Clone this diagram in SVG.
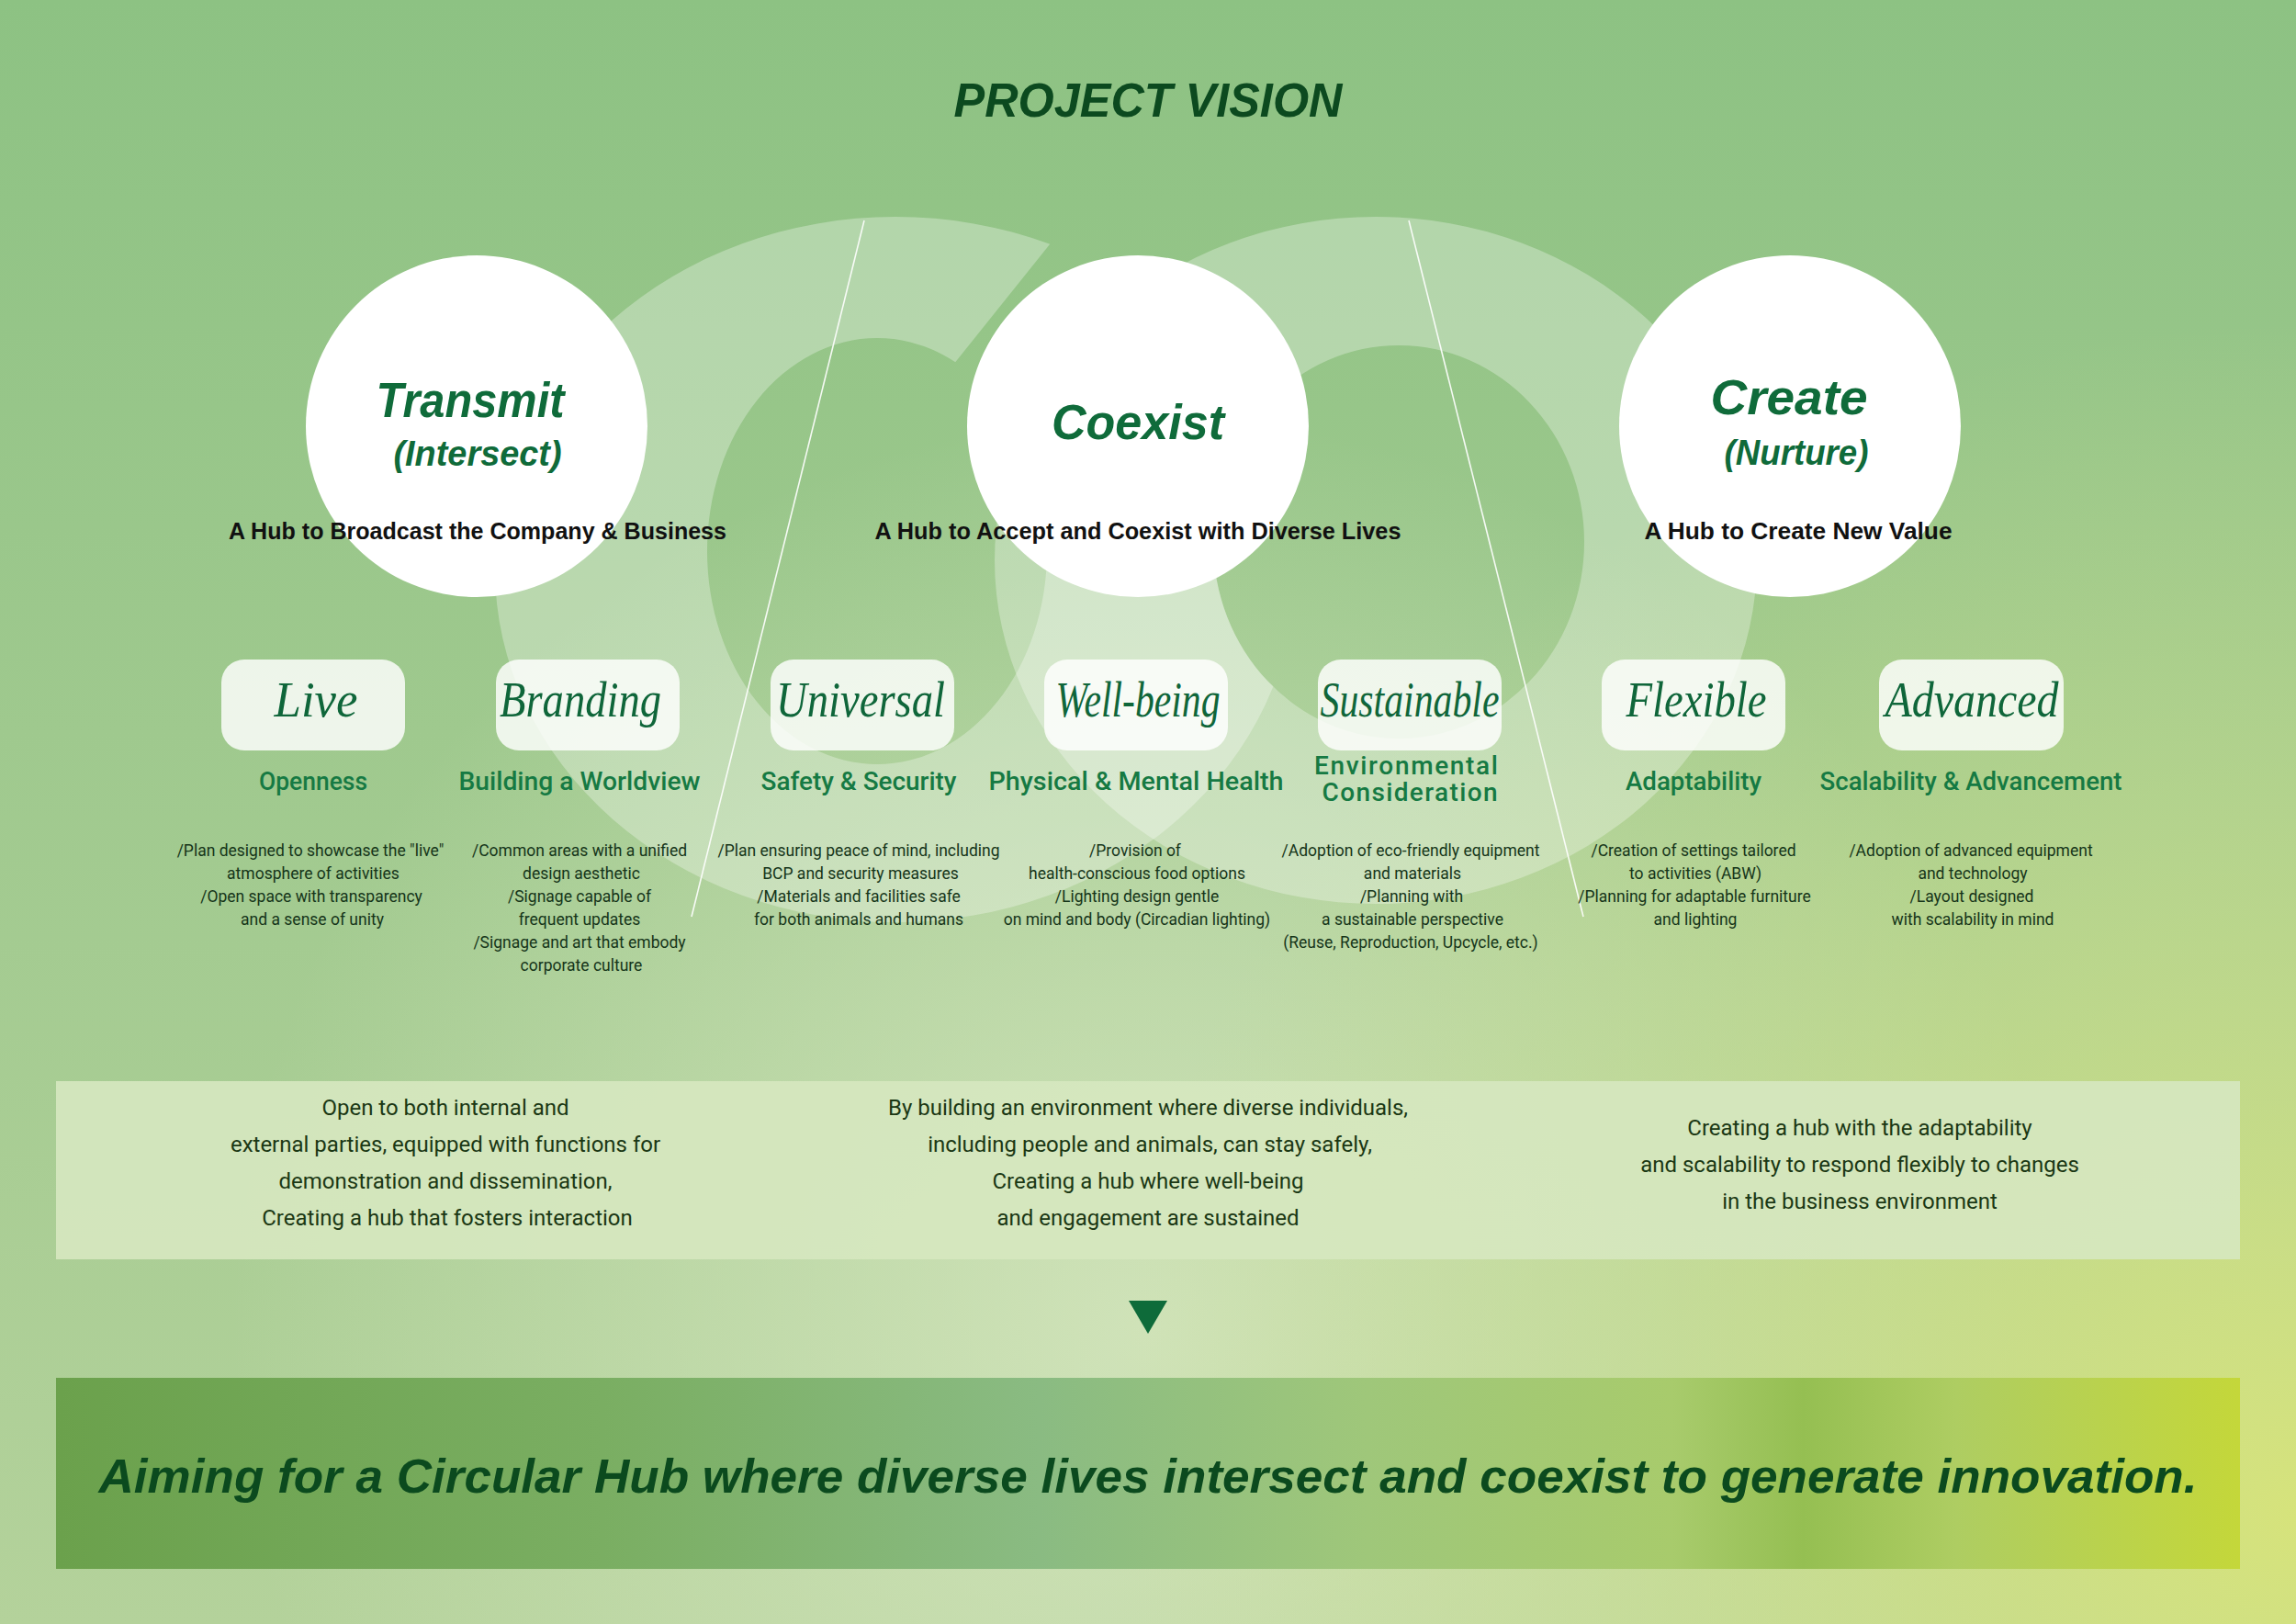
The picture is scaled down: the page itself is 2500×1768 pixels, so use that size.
<svg xmlns="http://www.w3.org/2000/svg" width="2500" height="1768" viewBox="0 0 2500 1768">
<defs>
<linearGradient id="bg" x1="0" y1="0" x2="0" y2="1">
<stop offset="0" stop-color="#8dc283"/>
<stop offset="0.45" stop-color="#9fc98e"/>
<stop offset="1" stop-color="#b4d29b"/>
</linearGradient>
<radialGradient id="glow" cx="1250" cy="1450" r="1000" gradientUnits="userSpaceOnUse">
<stop offset="0" stop-color="#dbe9c4" stop-opacity="0.75"/>
<stop offset="1" stop-color="#dbe9c4" stop-opacity="0"/>
</radialGradient>
<radialGradient id="yel" cx="2500" cy="1650" r="1300" gradientUnits="userSpaceOnUse">
<stop offset="0" stop-color="#d8e47a" stop-opacity="0.95"/>
<stop offset="0.6" stop-color="#cfe08a" stop-opacity="0.4"/>
<stop offset="1" stop-color="#cfe08a" stop-opacity="0"/>
</radialGradient>
<linearGradient id="banner" x1="0" y1="0" x2="1" y2="0">
<stop offset="0" stop-color="#6ba14c"/>
<stop offset="0.25" stop-color="#7aae62"/>
<stop offset="0.45" stop-color="#8abb82"/>
<stop offset="0.6" stop-color="#9fc77a"/>
<stop offset="0.74" stop-color="#a8cb6c"/>
<stop offset="0.8" stop-color="#95bf52"/>
<stop offset="0.87" stop-color="#aecd62"/>
<stop offset="1" stop-color="#c4d73a"/>
</linearGradient>
<mask id="cmask">
<rect width="2500" height="1768" fill="#fff"/>
<polygon points="1276,100 1010,432 965,600 1800,612 1800,100" fill="#000"/>
<ellipse cx="1523" cy="590" rx="202" ry="214" fill="#000"/>
</mask>
<style>
.ring{fill:#ffffff;fill-opacity:0.3;fill-rule:evenodd}
.hub{fill:#ffffff}
.ttl{font-family:"Liberation Sans",Arial,sans-serif;font-weight:bold;font-style:italic;fill:#0f6b3a;text-anchor:middle}
.sub{font-family:"Liberation Sans",Arial,sans-serif;font-weight:bold;font-size:25px;fill:#111111;text-anchor:middle}
.box{fill:#ffffff;fill-opacity:0.82}
.kw{font-family:"Liberation Serif","Times New Roman",serif;font-style:italic;font-size:54px;fill:#0f663a;text-anchor:middle}
.cat{font-family:Roboto,"Liberation Sans",sans-serif;font-weight:500;font-size:28px;fill:#167a43;text-anchor:middle}
.desc{font-family:Roboto,"Liberation Sans",sans-serif;font-size:17.5px;fill:#153519;text-anchor:middle}
.sum{font-family:Roboto,"Liberation Sans",sans-serif;font-size:24px;fill:#1b3814;text-anchor:middle}
.line{stroke:#ffffff;stroke-width:1.6;stroke-opacity:0.9;fill:none}
</style>
</defs>

<g id="background">
<rect width="2500" height="1768" fill="url(#bg)"/>
<rect width="2500" height="1768" fill="url(#glow)"/>
<rect width="2500" height="1768" fill="url(#yel)"/>
<path class="ring" mask="url(#cmask)" d="M539,620 a436,384 0 1,0 872,0 a436,384 0 1,0 -872,0 Z M770,600 a185,232 0 1,0 370,0 a185,232 0 1,0 -370,0 Z"/>
<path class="ring" d="M1083,610 a415,374 0 1,0 830,0 a415,374 0 1,0 -830,0 Z M1321,590 a202,214 0 1,0 404,0 a202,214 0 1,0 -404,0 Z"/>
</g>

<g id="title">
<text x="1250" y="127" font-family="Liberation Sans, Arial, sans-serif" font-weight="bold" font-style="italic" font-size="52" fill="#0c4a1f" text-anchor="middle" textLength="423" lengthAdjust="spacingAndGlyphs">PROJECT VISION</text>
</g>

<g id="connectors">
<line class="line" x1="941" y1="240" x2="753" y2="998"/>
<line class="line" x1="1534" y1="240" x2="1724" y2="998"/>
<polygon points="1229,1416 1271,1416 1250,1452" fill="#0e6b3a"/>
</g>

<g id="hub-transmit">
<circle class="hub" cx="519" cy="464" r="186"/>
<text class="ttl" x="512" y="454" font-size="54" textLength="205" lengthAdjust="spacingAndGlyphs">Transmit</text>
<text class="ttl" x="520" y="507" font-size="38" textLength="183" lengthAdjust="spacingAndGlyphs">(Intersect)</text>
<text class="sub" x="520" y="587" textLength="542" lengthAdjust="spacingAndGlyphs">A Hub to Broadcast the Company &amp; Business</text>
</g>
<g id="hub-coexist">
<circle class="hub" cx="1239" cy="464" r="186"/>
<text class="ttl" x="1239" y="478" font-size="54" textLength="188" lengthAdjust="spacingAndGlyphs">Coexist</text>
<text class="sub" x="1239" y="587" textLength="573" lengthAdjust="spacingAndGlyphs">A Hub to Accept and Coexist with Diverse Lives</text>
</g>
<g id="hub-create">
<circle class="hub" cx="1949" cy="464" r="186"/>
<text class="ttl" x="1948" y="451" font-size="54" textLength="171" lengthAdjust="spacingAndGlyphs">Create</text>
<text class="ttl" x="1956" y="506" font-size="38" textLength="157" lengthAdjust="spacingAndGlyphs">(Nurture)</text>
<text class="sub" x="1958" y="587" textLength="335" lengthAdjust="spacingAndGlyphs">A Hub to Create New Value</text>
</g>

<g id="node-live">
<rect class="box" x="241" y="718" width="200" height="99" rx="25"/>
<text class="kw" x="344" y="780" textLength="91" lengthAdjust="spacingAndGlyphs">Live</text>
<text class="cat" x="341" y="860" textLength="118" lengthAdjust="spacingAndGlyphs">Openness</text>
<text class="desc" x="338" y="932">/Plan designed to showcase the "live"</text>
<text class="desc" x="341" y="957">atmosphere of activities</text>
<text class="desc" x="339" y="982">/Open space with transparency</text>
<text class="desc" x="340" y="1007">and a sense of unity</text>
</g>
<g id="node-branding">
<rect class="box" x="540" y="718" width="200" height="99" rx="25"/>
<text class="kw" x="632" y="780" textLength="176" lengthAdjust="spacingAndGlyphs">Branding</text>
<text class="cat" x="631" y="860" textLength="263" lengthAdjust="spacingAndGlyphs">Building a Worldview</text>
<text class="desc" x="631" y="932">/Common areas with a unified</text>
<text class="desc" x="633" y="957">design aesthetic</text>
<text class="desc" x="631" y="982">/Signage capable of</text>
<text class="desc" x="631" y="1007">frequent updates</text>
<text class="desc" x="631" y="1032">/Signage and art that embody</text>
<text class="desc" x="633" y="1057">corporate culture</text>
</g>
<g id="node-universal">
<rect class="box" x="839" y="718" width="200" height="99" rx="25"/>
<text class="kw" x="937" y="780" textLength="184" lengthAdjust="spacingAndGlyphs">Universal</text>
<text class="cat" x="935" y="860" textLength="213" lengthAdjust="spacingAndGlyphs">Safety &amp; Security</text>
<text class="desc" x="935" y="932">/Plan ensuring peace of mind, including</text>
<text class="desc" x="937" y="957">BCP and security measures</text>
<text class="desc" x="935" y="982">/Materials and facilities safe</text>
<text class="desc" x="935" y="1007">for both animals and humans</text>
</g>
<g id="node-wellbeing">
<rect class="box" x="1137" y="718" width="200" height="99" rx="25"/>
<text class="kw" x="1239" y="780" textLength="179" lengthAdjust="spacingAndGlyphs">Well-being</text>
<text class="cat" x="1237" y="860" textLength="321" lengthAdjust="spacingAndGlyphs">Physical &amp; Mental Health</text>
<text class="desc" x="1236" y="932">/Provision of</text>
<text class="desc" x="1238" y="957">health-conscious food options</text>
<text class="desc" x="1238" y="982">/Lighting design gentle</text>
<text class="desc" x="1238" y="1007">on mind and body (Circadian lighting)</text>
</g>
<g id="node-sustainable">
<rect class="box" x="1435" y="718" width="200" height="99" rx="25"/>
<text class="kw" x="1535" y="780" textLength="195" lengthAdjust="spacingAndGlyphs">Sustainable</text>
<text class="cat" x="1531" y="843" font-size="24" textLength="200" lengthAdjust="spacing">Environmental</text>
<text class="cat" x="1535" y="872" font-size="24" textLength="191" lengthAdjust="spacing">Consideration</text>
<text class="desc" x="1536" y="932">/Adoption of eco-friendly equipment</text>
<text class="desc" x="1538" y="957">and materials</text>
<text class="desc" x="1537" y="982">/Planning with</text>
<text class="desc" x="1538" y="1007">a sustainable perspective</text>
<text class="desc" x="1536" y="1032">(Reuse, Reproduction, Upcycle, etc.)</text>
</g>
<g id="node-flexible">
<rect class="box" x="1744" y="718" width="200" height="99" rx="25"/>
<text class="kw" x="1847" y="780" textLength="153" lengthAdjust="spacingAndGlyphs">Flexible</text>
<text class="cat" x="1844" y="860" textLength="148" lengthAdjust="spacingAndGlyphs">Adaptability</text>
<text class="desc" x="1844" y="932">/Creation of settings tailored</text>
<text class="desc" x="1846" y="957">to activities (ABW)</text>
<text class="desc" x="1845" y="982">/Planning for adaptable furniture</text>
<text class="desc" x="1846" y="1007">and lighting</text>
</g>
<g id="node-advanced">
<rect class="box" x="2046" y="718" width="201" height="99" rx="25"/>
<text class="kw" x="2147" y="780" textLength="189" lengthAdjust="spacingAndGlyphs">Advanced</text>
<text class="cat" x="2146" y="860" textLength="329" lengthAdjust="spacingAndGlyphs">Scalability &amp; Advancement</text>
<text class="desc" x="2146" y="932">/Adoption of advanced equipment</text>
<text class="desc" x="2148" y="957">and technology</text>
<text class="desc" x="2147" y="982">/Layout designed</text>
<text class="desc" x="2148" y="1007">with scalability in mind</text>
</g>

<g id="summary">
<rect x="61" y="1177" width="2378" height="194" fill="#d6e7bf" fill-opacity="0.92"/>
<text class="sum" x="485" y="1214">Open to both internal and</text>
<text class="sum" x="485" y="1254">external parties, equipped with functions for</text>
<text class="sum" x="485" y="1294">demonstration and dissemination,</text>
<text class="sum" x="487" y="1334">Creating a hub that fosters interaction</text>
<text class="sum" x="1250" y="1214">By building an environment where diverse individuals,</text>
<text class="sum" x="1252" y="1254">including people and animals, can stay safely,</text>
<text class="sum" x="1250" y="1294">Creating a hub where well-being</text>
<text class="sum" x="1250" y="1334">and engagement are sustained</text>
<text class="sum" x="2025" y="1236">Creating a hub with the adaptability</text>
<text class="sum" x="2025" y="1276">and scalability to respond flexibly to changes</text>
<text class="sum" x="2025" y="1316">in the business environment</text>
</g>

<g id="conclusion">
<rect x="61" y="1500" width="2378" height="208" fill="url(#banner)"/>
<text x="1250" y="1625" font-family="Liberation Sans, Arial, sans-serif" font-weight="bold" font-style="italic" font-size="52" fill="#0b4a1e" text-anchor="middle" textLength="2285" lengthAdjust="spacingAndGlyphs">Aiming for a Circular Hub where diverse lives intersect and coexist to generate innovation.</text>
</g>
</svg>
